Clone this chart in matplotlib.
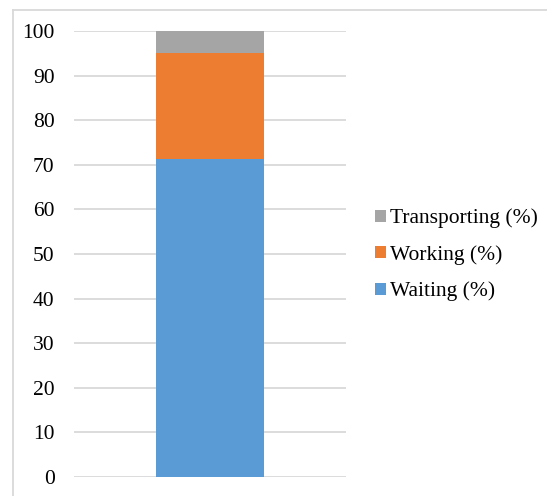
import matplotlib
matplotlib.use("Agg")
from matplotlib import pyplot as plt
from matplotlib.lines import Line2D

# shares of time for the one stacked bar
series = ["Waiting (%)", "Working (%)", "Transporting (%)"]
values = [71.3, 23.8, 4.9]
colors = ["#5b9bd5", "#ed7d31", "#a5a5a5"]
yticks = [0, 10, 20, 30, 40, 50, 60, 70, 80, 90, 100]

plt.rcParams["font.family"] = ["Liberation Serif", "DejaVu Serif"]

fig = plt.figure(figsize=(5.47, 4.96), dpi=100)
ax = fig.add_axes([74 / 547, 19 / 496, 272 / 547, 446 / 496])

bottom = 0
handles = []
for name, v, c in zip(series, values, colors):
    h = ax.bar(0, v, width=0.4, bottom=bottom, color=c, label=name, zorder=3)
    handles.append(h)
    bottom += v

ax.set_xlim(-0.5, 0.5)
ax.set_ylim(0, 100)
ax.set_yticks(yticks)
ax.set_xticks([])
ax.tick_params(axis="y", length=0, pad=14, labelsize=15.5, colors="#000000")
for s in ax.spines.values():
    s.set_visible(False)
ax.yaxis.grid(True, color="#d9d9d9", linewidth=1.3, zorder=0)
ax.set_axisbelow(True)

leg = fig.legend(handles[::-1], series[::-1], loc="center left",
                 bbox_to_anchor=(356 / 547, 1 - 255 / 496), frameon=False,
                 fontsize=15.5, handlelength=0.5, handleheight=0.5,
                 handletextpad=0.2, labelspacing=0.78)

# outer chart border (left and top edges visible)
fig.add_artist(Line2D([13 / 547, 13 / 547], [0, 1 - 10 / 496], transform=fig.transFigure,
                      color="#d9d9d9", linewidth=1.3))
fig.add_artist(Line2D([13 / 547, 1], [1 - 10 / 496, 1 - 10 / 496], transform=fig.transFigure,
                      color="#d9d9d9", linewidth=1.3))

fig.savefig("out.png", dpi=100, facecolor="white")
